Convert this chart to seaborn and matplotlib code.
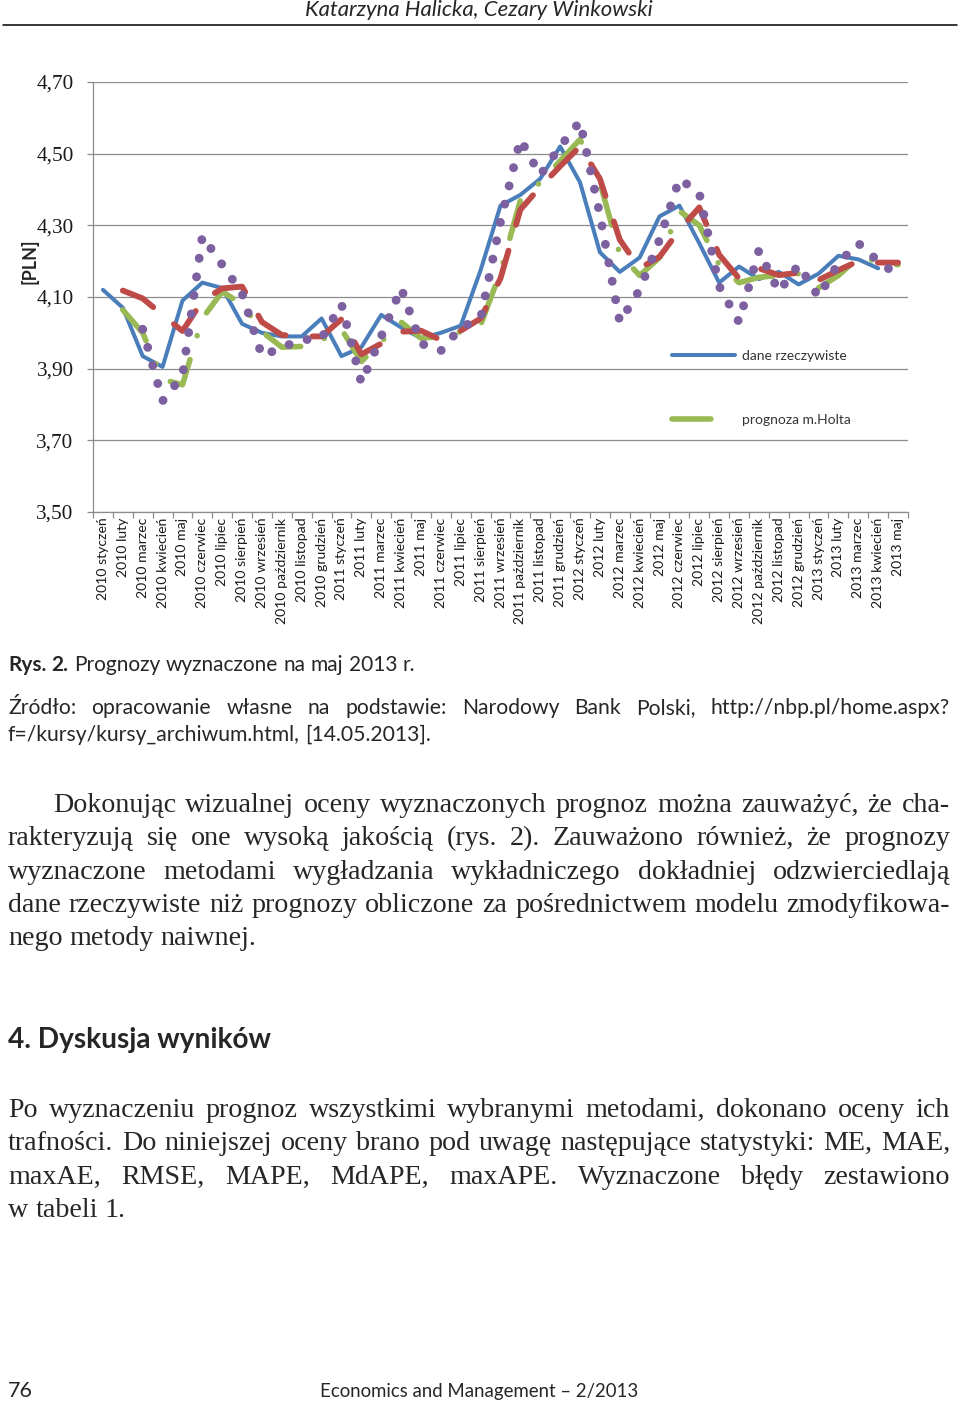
import numpy as np
import pandas as pd
import matplotlib
matplotlib.use("Agg")
import matplotlib.pyplot as plt
from matplotlib.lines import Line2D
from matplotlib.ticker import FuncFormatter
import seaborn as sns

# dane do wykresu (kurs w PLN)
months = ["2010 styczeń", "2010 luty", "2010 marzec", "2010 kwiecień", "2010 maj",
          "2010 czerwiec", "2010 lipiec", "2010 sierpień", "2010 wrzesień",
          "2010 październik", "2010 listopad", "2010 grudzień",
          "2011 styczeń", "2011 luty", "2011 marzec", "2011 kwiecień", "2011 maj",
          "2011 czerwiec", "2011 lipiec", "2011 sierpień", "2011 wrzesień",
          "2011 październik", "2011 listopad", "2011 grudzień",
          "2012 styczeń", "2012 luty", "2012 marzec", "2012 kwiecień", "2012 maj",
          "2012 czerwiec", "2012 lipiec", "2012 sierpień", "2012 wrzesień",
          "2012 październik", "2012 listopad", "2012 grudzień",
          "2013 styczeń", "2013 luty", "2013 marzec", "2013 kwiecień", "2013 maj"]

actual = [4.12, 4.07, 3.935, 3.905, 4.09, 4.14, 4.125, 4.025, 4.00, 3.99,
          3.99, 4.04, 3.935, 3.96, 4.05, 4.015, 3.985, 4.00, 4.02, 4.175,
          4.355, 4.385, 4.43, 4.52, 4.42, 4.225, 4.17, 4.21, 4.325, 4.355,
          4.25, 4.14, 4.185, 4.15, 4.17, 4.135, 4.165, 4.215, 4.205, 4.18, None]

holt = [None, 4.064, 4.0, 3.87, 3.855, 4.04, 4.115, 4.08, 4.003, 3.96,
        3.962, 3.98, 4.01, 3.92, 3.975, 4.03, 3.985, 3.99, 4.003, 4.022,
        4.17, 4.37, 4.42, 4.48, 4.54, 4.42, 4.22, 4.16, 4.21, 4.34,
        4.30, 4.19, 4.14, 4.155, 4.16, 4.165, 4.125, 4.16, 4.21, 4.20, 4.19]

brown = [None, 4.118, 4.096, 4.05, 4.005, 4.089, 4.124, 4.129, 4.03, 3.994,
         3.99, 3.99, 4.038, 3.94, 3.97, 4.003, 4.006, 3.98, 4.006, 4.04,
         4.152, 4.344, 4.407, 4.465, 4.52, 4.43, 4.26, 4.18, 4.212, 4.287,
         4.35, 4.218, 4.152, 4.18, 4.161, 4.168, 4.147, 4.175, 4.20, 4.196, 4.196]

naive_mod = [None, None, 4.01, 3.81, 3.88, 4.27, 4.19, 4.11, 3.935, 3.96,
             3.98, 3.985, 4.08, 3.86, 3.99, 4.125, 3.97, 3.95, 4.015, 4.04,
             4.31, 4.54, 4.44, 4.52, 4.59, 4.33, 4.03, 4.12, 4.26, 4.43,
             4.39, 4.13, 4.03, 4.23, 4.115, 4.19, 4.10, 4.195, 4.25, 4.20, 4.16]

y_ticks = [3.5, 3.7, 3.9, 4.1, 4.3, 4.5, 4.7]

df = pd.DataFrame({"idx": np.arange(len(months)), "miesiac": months,
                   "rzeczywiste": actual, "holt": holt, "brown": brown,
                   "naiwna": naive_mod}).astype({"rzeczywiste": float, "holt": float,
                                                 "brown": float, "naiwna": float})

W, H = 960, 1403
sns.set_style("white")
SANS = ["Lato", "DejaVu Sans"]
SERIF = ["Liberation Serif", "DejaVu Serif"]
plt.rcParams["font.family"] = SANS

fig = plt.figure(figsize=(W / 100, H / 100), dpi=100)
rend = fig.canvas.get_renderer()


def measure(s, **kw):
    t = fig.text(0, 0, s, **kw)
    w = t.get_window_extent(renderer=rend).width
    t.remove()
    return w


def fit(s, target, **kw):
    return 10 * target / measure(s, fontsize=10, **kw)


def place_words(words, y, x0, x1=None, **kw):
    widths = [measure(w, **{**kw, **k}) for w, k in words]
    if x1 is not None and len(words) > 1:
        gap = (x1 - x0 - sum(widths)) / (len(words) - 1)
    else:
        gap = measure("n n", **kw) - measure("nn", **kw)
    xp = x0
    for (w, k), wd in zip(words, widths):
        fig.text(xp / W, 1 - y / H, w, ha="left", va="baseline", **{**kw, **k})
        xp += wd + gap


def ws(s):
    return [(w, {}) for w in s.split()]


# ---- wykres ----
grid_c = "#8C8C8C"
ax = fig.add_axes([93 / W, 1 - 512 / H, (908 - 93) / W, (512 - 82) / H])
ax.set_axisbelow(True)

sns.lineplot(data=df, x="idx", y="rzeczywiste", ax=ax, color="#4A7EBB", linewidth=2.9,
             errorbar=None, zorder=3, solid_joinstyle="round", solid_capstyle="round")
sns.lineplot(data=df, x="idx", y="holt", ax=ax, color="#98B954", linewidth=4.0,
             errorbar=None, zorder=4, linestyle=(0, (7, 4.5, 0.01, 4.5)),
             dash_capstyle="round", dash_joinstyle="round")
sns.lineplot(data=df, x="idx", y="brown", ax=ax, color="#BE4B48", linewidth=4.2,
             errorbar=None, zorder=5, linestyle=(0, (6, 4.6)),
             dash_capstyle="round", dash_joinstyle="round")
sns.lineplot(data=df, x="idx", y="naiwna", ax=ax, color="#7D60A0", linewidth=6.4,
             errorbar=None, zorder=6, linestyle=(0, (0.01, 2.1)),
             dash_capstyle="round", dash_joinstyle="round")

ax.set_xlim(-0.5, len(months) - 0.5)
ax.set_ylim(3.5, 4.7)
ax.set_yticks(y_ticks)
ax.yaxis.set_major_formatter(FuncFormatter(lambda v, p: f"{v:.2f}".replace(".", ",")))
ax.grid(axis="y", color=grid_c, linewidth=0.9)
ax.grid(axis="x", visible=False)

xfs = fit("2010 październik", 106)
ax.set_xticks(df["idx"])
ax.set_xticklabels(months, rotation=90, fontsize=xfs, color="#1a1a1a")
ax.set_xticks(np.arange(-0.5, len(months), 1), minor=True)
ax.tick_params(axis="x", which="major", bottom=True, length=0, pad=4)
ax.tick_params(axis="x", which="minor", bottom=True, length=4, color=grid_c, width=0.9)
yfs = fit("4,70", 37, family=SERIF)
ax.tick_params(axis="y", left=True, length=4, color=grid_c, width=0.9, pad=10,
               labelsize=yfs, labelfontfamily="Liberation Serif", labelcolor="#1a1a1a")
for s in ["top", "right"]:
    ax.spines[s].set_visible(False)
for s in ["left", "bottom"]:
    ax.spines[s].set_color(grid_c)
    ax.spines[s].set_linewidth(0.9)
ax.set_xlabel("")
ax.set_ylabel("")

pfs = fit("[PLN]", 45, weight="bold")
fig.text(30 / W, 1 - 261 / H, "[PLN]", rotation=90, ha="center", va="center",
         fontsize=pfs, weight="bold")

lfs = fit("dane rzeczywiste", 105)
lfs_px = lfs * 100 / 72
ax.legend(handles=[ax.lines[0], ax.lines[1]], labels=["dane rzeczywiste", "prognoza m.Holta"],
          frameon=False, loc="upper left",
          bbox_to_anchor=((672 - 93) / 815, (512 - 350) / 430),
          prop={"size": lfs, "family": SANS}, handlelength=63 / lfs_px,
          handletextpad=7 / lfs_px, labelspacing=3.75, borderpad=0, borderaxespad=0,
          labelcolor="#333333")

# ---- nagłówek ----
hfs = fit("Katarzyna Halicka, Cezary Winkowski", 348, style="italic")
fig.text(479 / W, 1 - 16 / H, "Katarzyna Halicka, Cezary Winkowski", ha="center",
         va="baseline", fontsize=hfs, style="italic")
fig.add_artist(Line2D([3 / W, 957 / W], [1 - 25 / H] * 2, color="black", linewidth=1.1))

# ---- podpis i źródło ----
cfs = fit("Rys. 2. Prognozy wyznaczone na maj 2013 r.", 405)
cap = [("Rys.", {"weight": "bold"}), ("2.", {"weight": "bold"})] + ws("Prognozy wyznaczone na maj 2013 r.")
place_words(cap, 671, 8, None, fontsize=cfs)
sfs = fit("f=/kursy/kursy_archiwum.html, [14.05.2013].", 424)
place_words(ws("Źródło: opracowanie własne na podstawie: Narodowy Bank Polski, http://nbp.pl/home.aspx?"),
            714, 8, 950, fontsize=sfs)
place_words(ws("f=/kursy/kursy_archiwum.html, [14.05.2013]."), 741, 8, None, fontsize=sfs)

# ---- tekst główny ----
bfs = fit("nego metody naiwnej.", 248, family=SERIF)
body = dict(fontsize=bfs, family=SERIF)
par1 = ["Dokonując wizualnej oceny wyznaczonych prognoz można zauważyć, że cha-",
        "rakteryzują się one wysoką jakością (rys. 2). Zauważono również, że prognozy",
        "wyznaczone metodami wygładzania wykładniczego dokładniej odzwierciedlają",
        "dane rzeczywiste niż prognozy obliczone za pośrednictwem modelu zmodyfikowa-",
        "nego metody naiwnej."]
base1 = [812, 845.3, 878.6, 911.9, 945.2]
for i, (ln, yb) in enumerate(zip(par1, base1)):
    last = i == len(par1) - 1
    place_words(ws(ln), yb, 53 if i == 0 else 8, None if last else 950, **body)

dfs = fit("4. Dyskusja wyników", 264, weight="bold")
fig.text(8 / W, 1 - 1048 / H, "4. Dyskusja wyników", ha="left", va="baseline",
         fontsize=dfs, weight="bold")

par2 = ["Po wyznaczeniu prognoz wszystkimi wybranymi metodami, dokonano oceny ich",
        "trafności. Do niniejszej oceny brano pod uwagę następujące statystyki: ME, MAE,",
        "maxAE, RMSE, MAPE, MdAPE, maxAPE. Wyznaczone błędy zestawiono",
        "w tabeli 1."]
base2 = [1117, 1150.3, 1183.6, 1216.9]
for i, (ln, yb) in enumerate(zip(par2, base2)):
    last = i == len(par2) - 1
    place_words(ws(ln), yb, 8, None if last else 950, **body)

# ---- stopka ----
ffs = fit("Economics and Management – 2/2013", 319)
fig.text(8 / W, 1 - 1397 / H, "76", ha="left", va="baseline", fontsize=ffs * 1.15)
fig.text(320 / W, 1 - 1397 / H, "Economics and Management – 2/2013", ha="left",
         va="baseline", fontsize=ffs)

fig.savefig("out.png", dpi=100, facecolor="white")
